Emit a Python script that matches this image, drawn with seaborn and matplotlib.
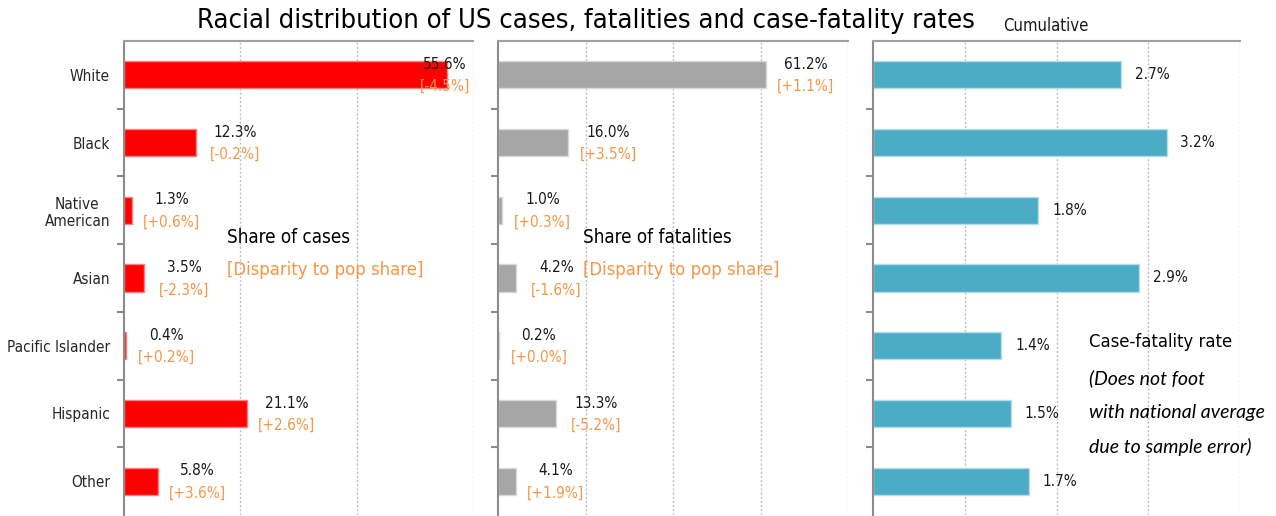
import numpy as np
import pandas as pd
import seaborn as sns
import matplotlib
matplotlib.use('Agg')
import matplotlib.pyplot as plt

sns.set_style('white')
plt.rcParams['font.family'] = ['Liberation Sans Narrow', 'DejaVu Sans Condensed', 'DejaVu Sans']
plt.rcParams['font.stretch'] = 'condensed'

# data
races = ['White', 'Black', 'Native\nAmerican', 'Asian', 'Pacific Islander', 'Hispanic', 'Other']
case_share = [55.6, 12.3, 1.3, 3.5, 0.4, 21.1, 5.8]
case_disparity = [-4.5, -0.2, 0.6, -2.3, 0.2, 2.6, 3.6]
death_share = [61.2, 16.0, 1.0, 4.2, 0.2, 13.3, 4.1]
death_disparity = [1.1, 3.5, 0.3, -1.6, 0.0, -5.2, 1.9]
cfr = [2.7, 3.2, 1.8, 2.9, 1.4, 1.5, 1.7]

RED = '#FF0000'
GREY = '#A6A6A6'
TEAL = '#4BACC6'
ORANGE = '#F79646'
SPINE = '#8C8C8C'

fig = plt.figure(figsize=(12.76, 5.16), dpi=100)
W, H = 1276, 516
top, bottom = 41, 515
panels = [(124, 473, 60), (498, 848, 80), (873, 1240, 4)]
axes = []
for l, r, xmax in panels:
    ax = fig.add_axes([l / W, 1 - bottom / H, (r - l) / W, (bottom - top) / H])
    axes.append(ax)

df = pd.DataFrame({'race': races, 'cases': case_share, 'deaths': death_share, 'cfr': cfr})
cols = ['cases', 'deaths', 'cfr']
colors = [RED, GREY, TEAL]
edges = ['#FF8080', '#D9D9D9', '#B7DEE8']

for k, ax in enumerate(axes):
    xmax = panels[k][2]
    sns.barplot(data=df, x=cols[k], y='race', orient='h', color=colors[k],
                width=0.4, saturation=1, edgecolor=edges[k], linewidth=1, ax=ax)
    ax.set_xlim(0, xmax)
    ax.set_ylim(6.5, -0.5)
    ax.set_xlabel('')
    ax.set_ylabel('')
    step = xmax / (3 if k == 0 else 4)
    ax.set_xticks(np.arange(step, xmax + step / 2, step))
    ax.tick_params(axis='x', length=0, labelbottom=False)
    ax.grid(axis='x', color='#BFBFBF', linestyle=(0, (1.5, 1.5)), linewidth=1)
    ax.grid(axis='y', visible=False)
    for s in ['right', 'bottom']:
        ax.spines[s].set_visible(False)
    ax.spines['left'].set_color(SPINE)
    ax.spines['left'].set_linewidth(1.5)
    ax.spines['top'].set_color('#A0A0A0')
    ax.spines['top'].set_linewidth(1.5)
    ax.set_yticks(np.arange(0.5, 6.5, 1), minor=True)
    ax.tick_params(axis='y', which='minor', length=5, width=1.5, color=SPINE, left=True)
    ax.tick_params(axis='y', which='major', length=0, pad=10)
    if k == 0:
        ax.set_yticks(range(len(races)))
        ax.set_yticklabels(races, fontsize=11)
        for t in ax.get_yticklabels():
            t.set_multialignment('center')
    else:
        ax.tick_params(axis='y', which='major', labelleft=False)

# value labels with disparity below
for k, (vals, disp) in enumerate([(case_share, case_disparity), (death_share, death_disparity)]):
    ax = axes[k]
    xmax = panels[k][2]
    width_px = panels[k][1] - panels[k][0]
    for i, (v, d) in enumerate(zip(vals, disp)):
        fx = min(v / xmax + 40 / width_px, 0.92)
        ax.annotate(f'{v:.1f}%', xy=(fx, i), xycoords=ax.get_yaxis_transform(),
                    xytext=(0, 7.5), textcoords='offset points',
                    ha='center', va='center', fontsize=11, color='#1A1A1A')
        ax.annotate(f'[{d:+.1f}%]', xy=(fx, i), xycoords=ax.get_yaxis_transform(),
                    xytext=(0, -8.5), textcoords='offset points',
                    ha='center', va='center', fontsize=11, color=ORANGE)

for i, v in enumerate(cfr):
    axes[2].annotate(f'{v:.1f}%', xy=(v, i), xytext=(10, 0), textcoords='offset points',
                     ha='left', va='center', fontsize=11, color='#1A1A1A')

# panel notes
axes[0].text(0.295, 0.586, 'Share of cases', transform=axes[0].transAxes,
             fontsize=13.5, va='center', ha='left', color='black')
axes[0].text(0.295, 0.517, '[Disparity to pop share]', transform=axes[0].transAxes,
             fontsize=13.2, va='center', ha='left', color=ORANGE)
axes[1].text(0.243, 0.586, 'Share of fatalities', transform=axes[1].transAxes,
             fontsize=13.5, va='center', ha='left', color='black')
axes[1].text(0.243, 0.517, '[Disparity to pop share]', transform=axes[1].transAxes,
             fontsize=13.2, va='center', ha='left', color=ORANGE)
axes[2].text(0.589, 0.365, 'Case-fatality rate', transform=axes[2].transAxes,
             fontsize=13.2, va='center', ha='left', color='black')
for y, line in zip([0.289, 0.217, 0.143],
                   ['(Does not foot', 'with national average', 'due to sample error)']):
    axes[2].text(0.589, y, line, transform=axes[2].transAxes, fontsize=14,
                 style='italic', family=['Lato', 'DejaVu Sans'], stretch='normal',
                 va='center', ha='left', color='black', clip_on=False)

fig.text(586 / W, 1 - 21 / H, 'Racial distribution of US cases, fatalities and case-fatality rates',
         ha='center', va='center', fontsize=19.6, color='black')
fig.text(1003 / W, 1 - 26 / H, 'Cumulative', ha='left', va='center', fontsize=12, color='#1A1A1A')

fig.savefig('out.png', dpi=100)
